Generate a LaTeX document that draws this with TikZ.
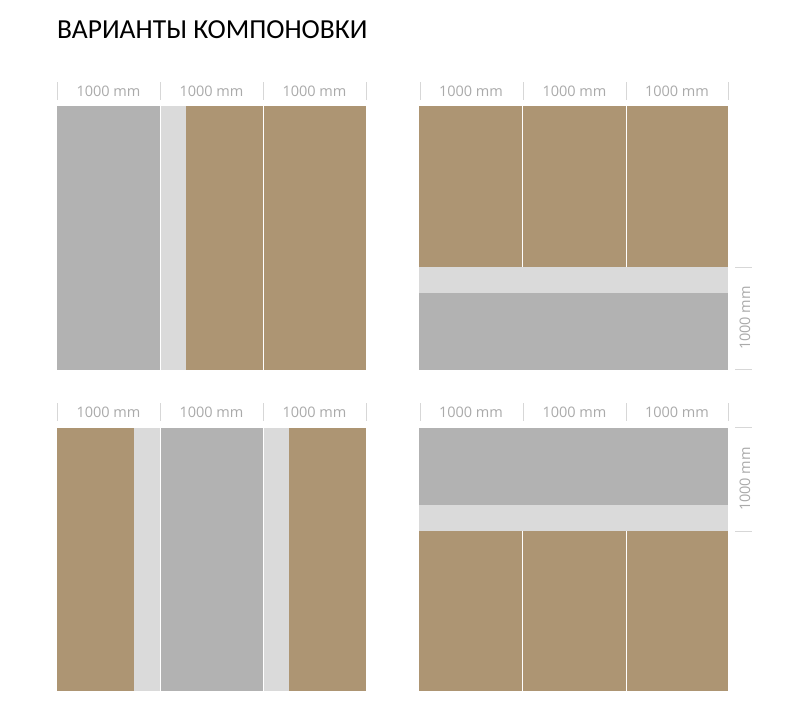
\documentclass[tikz,border=0pt]{standalone}
\usepackage{fontspec}
\setmainfont{Open Sans}
\newfontfamily\titlefont{Carlito}
\definecolor{tanc}{RGB}{173,149,115}
\definecolor{grayc}{RGB}{178,178,178}
\definecolor{lightc}{RGB}{218,218,218}
\definecolor{tickc}{RGB}{215,215,215}
\definecolor{dimtext}{RGB}{170,170,170}
\tikzset{
  sep/.style={white, line width=0.8pt},
  tickline/.style={tickc, line width=0.8pt},
  dimlabel/.style={text=dimtext, font=\fontsize{14.5}{17}\selectfont, inner sep=0pt},
}
\begin{document}
\begin{tikzpicture}[x=1pt,y=-1pt]
\useasboundingbox[fill=white] (0,0) rectangle (807,728);
\node[anchor=base west, inner sep=0pt] (title) at (57,38) {\titlefont\fontsize{27.5}{32}\selectfont ВАРИАНТЫ КОМПОНОВКИ};

% ---------- top-left ----------
\fill[grayc] (57,106) rectangle (160,370);
\fill[lightc] (160,106) rectangle (186,370);
\fill[tanc] (186,106) rectangle (366,370);
\draw[sep] (160,106) -- (160,370);
\draw[sep] (263,106) -- (263,370);
\foreach \x in {57,160,263,366} \draw[tickline] (\x,82) -- (\x,100);
\node[dimlabel] (tl1) at (108.5,91) {1000 mm};
\node[dimlabel] (tl2) at (211.5,91) {1000 mm};
\node[dimlabel] (tl3) at (314.5,91) {1000 mm};

% ---------- top-right ----------
\fill[tanc] (419,106) rectangle (728,267);
\fill[lightc] (419,267) rectangle (728,293);
\fill[grayc] (419,293) rectangle (728,370);
\draw[sep] (522,106) -- (522,267);
\draw[sep] (626,106) -- (626,267);
\foreach \x in {420,523,626,728} \draw[tickline] (\x,82) -- (\x,100);
\node[dimlabel] (tr1) at (471,91) {1000 mm};
\node[dimlabel] (tr2) at (574.5,91) {1000 mm};
\node[dimlabel] (tr3) at (677,91) {1000 mm};
\foreach \y in {267,369} \draw[tickline] (735,\y) -- (752,\y);
\node[dimlabel, rotate=90] (trv) at (745,318) {1000 mm};

% ---------- bottom-left ----------
\fill[tanc] (57,428) rectangle (134,691);
\fill[lightc] (134,428) rectangle (160,691);
\fill[grayc] (160,428) rectangle (263,691);
\fill[lightc] (263,428) rectangle (289,691);
\fill[tanc] (289,428) rectangle (366,691);
\draw[sep] (160,428) -- (160,691);
\draw[sep] (263,428) -- (263,691);
\foreach \x in {57,160,263,366} \draw[tickline] (\x,403) -- (\x,421);
\node[dimlabel] (bl1) at (108.5,412) {1000 mm};
\node[dimlabel] (bl2) at (211.5,412) {1000 mm};
\node[dimlabel] (bl3) at (314.5,412) {1000 mm};

% ---------- bottom-right ----------
\fill[grayc] (419,428) rectangle (728,505);
\fill[lightc] (419,505) rectangle (728,531);
\fill[tanc] (419,531) rectangle (728,691);
\draw[sep] (522,531) -- (522,691);
\draw[sep] (626,531) -- (626,691);
\foreach \x in {420,523,626,728} \draw[tickline] (\x,403) -- (\x,421);
\node[dimlabel] (br1) at (471,412) {1000 mm};
\node[dimlabel] (br2) at (574.5,412) {1000 mm};
\node[dimlabel] (br3) at (677,412) {1000 mm};
\foreach \y in {427,531} \draw[tickline] (735,\y) -- (752,\y);
\node[dimlabel, rotate=90] (brv) at (745,479) {1000 mm};
\end{tikzpicture}
\end{document}
